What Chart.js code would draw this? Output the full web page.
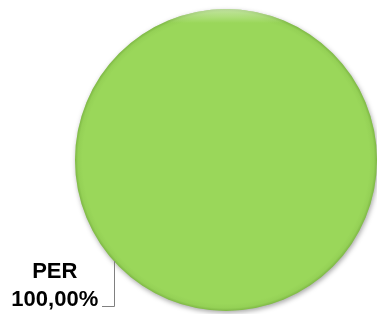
<!DOCTYPE html>
<html>
<head>
<meta charset="utf-8">
<script src="https://cdn.jsdelivr.net/npm/chart.js@4"></script>
<style>
  body { margin: 0; background: #ffffff; }
  canvas { display: block; }
</style>
</head>
<body>
<canvas id="myChart" width="377" height="314"></canvas>
<script>
const labels = ['PER'];
const values = [100];
const colors = ['#9AD75A'];

// etichetta con linea di richiamo, come in Excel
const leaderLabel = {
    id: 'leaderLabel',
    afterDatasetsDraw(chart) {
        const ctx = chart.ctx;
        const arc = chart.getDatasetMeta(0).data[0];
        const total = values.reduce((a, b) => a + b, 0);
        const pct = (values[0] / total * 100).toFixed(2).replace('.', ',') + '%';
        const ang = 138 * Math.PI / 180;
        const sx = arc.x + arc.outerRadius * Math.cos(ang);
        const sy = arc.y + arc.outerRadius * Math.sin(ang);
        const ey = sy + 45;
        ctx.save();
        ctx.strokeStyle = '#808080';
        ctx.lineWidth = 1;
        ctx.beginPath();
        ctx.moveTo(Math.round(sx) + 0.5, sy);
        ctx.lineTo(Math.round(sx) + 0.5, Math.round(ey) + 0.5);
        ctx.lineTo(Math.round(sx) - 12, Math.round(ey) + 0.5);
        ctx.stroke();
        ctx.fillStyle = '#000000';
        ctx.font = 'bold 22px "Liberation Sans", Arial, sans-serif';
        ctx.textAlign = 'center';
        ctx.textBaseline = 'alphabetic';
        ctx.fillText(labels[0], sx - 59, ey - 28);
        ctx.fillText(pct, sx - 59, ey);
        ctx.restore();
    }
};

// ombra sotto la torta
const pieShadow = {
    id: 'pieShadow',
    beforeDatasetDraw(chart) {
        const ctx = chart.ctx;
        ctx.save();
        ctx.shadowColor = 'rgba(0,0,0,0.35)';
        ctx.shadowBlur = 5;
        ctx.shadowOffsetX = 1;
        ctx.shadowOffsetY = 2;
    },
    afterDatasetDraw(chart) {
        chart.ctx.restore();
    }
};

// effetto smussato: bordo più scuro e riflesso in alto
const bevel = {
    id: 'bevel',
    afterDatasetDraw(chart) {
        const ctx = chart.ctx;
        const arc = chart.getDatasetMeta(0).data[0];
        const r = arc.outerRadius;
        ctx.save();
        ctx.beginPath();
        ctx.arc(arc.x, arc.y, r, 0, Math.PI * 2);
        ctx.clip();
        const g = ctx.createRadialGradient(arc.x, arc.y, r * 0.95, arc.x, arc.y, r);
        g.addColorStop(0, 'rgba(60,110,20,0)');
        g.addColorStop(0.6, 'rgba(60,110,20,0.06)');
        g.addColorStop(1, 'rgba(60,110,20,0.3)');
        ctx.fillStyle = g;
        ctx.fillRect(arc.x - r, arc.y - r, r * 2, r * 2);
        const h = ctx.createLinearGradient(0, arc.y - r, 0, arc.y - r + 14);
        h.addColorStop(0, 'rgba(255,255,255,0.45)');
        h.addColorStop(1, 'rgba(255,255,255,0)');
        ctx.fillStyle = h;
        ctx.fillRect(arc.x - r, arc.y - r, r * 2, 14);
        ctx.restore();
    }
};

const ctx = document.getElementById('myChart').getContext('2d');
const myChart = new Chart(ctx, {
    type: 'pie',
    data: {
        labels: labels,
        datasets: [{
            data: values,
            backgroundColor: colors,
            borderWidth: 0
        }]
    },
    options: {
        responsive: false,
        animation: false,
        layout: {
            padding: { top: 8, bottom: 2, left: 75, right: 0 }
        },
        plugins: {
            legend: { display: false },
            tooltip: { enabled: false }
        }
    },
    plugins: [pieShadow, bevel, leaderLabel]
});
</script>
</body>
</html>
